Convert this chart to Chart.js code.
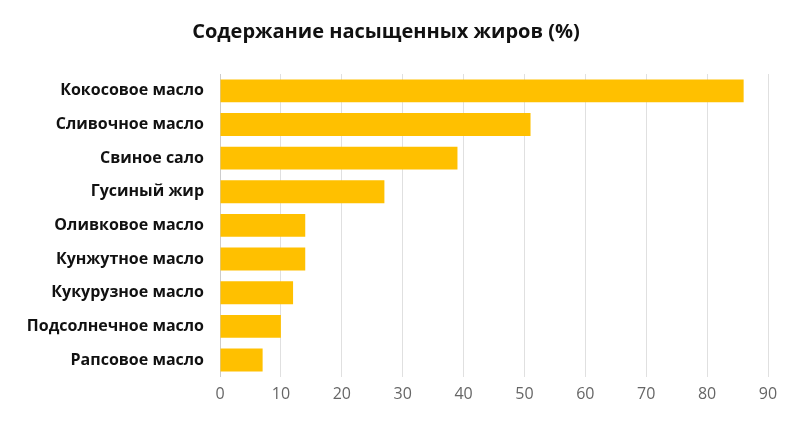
<!DOCTYPE html>
<html>
<head>
<meta charset="utf-8">
<script src="https://cdn.jsdelivr.net/npm/chart.js@4/dist/chart.umd.min.js"></script>
<style>
  body { margin: 0; background: #fff; }
  #wrap { width: 800px; height: 426px; }
</style>
</head>
<body>
<div id="wrap"><canvas id="myChart"></canvas></div>
<script>
const categories = ['Кокосовое масло', 'Сливочное масло', 'Свиное сало', 'Гусиный жир', 'Оливковое масло',
  'Кунжутное масло', 'Кукурузное масло', 'Подсолнечное масло', 'Рапсовое масло'];
const fatValues = [86, 51, 39, 27, 14, 14, 12, 10, 7];
const xTicks = [0, 10, 20, 30, 40, 50, 60, 70, 80, 90];

new Chart(document.getElementById('myChart'), {
  type: 'bar',
  data: {
    labels: categories,
    datasets: [{
      data: fatValues,
      backgroundColor: '#FFC000',
      categoryPercentage: 1,
      barPercentage: 0.68
    }]
  },
  options: {
    indexAxis: 'y',
    responsive: true,
    maintainAspectRatio: false,
    animation: false,
    layout: { padding: { left: 4, right: 32, top: 6, bottom: 14 } },
    plugins: {
      legend: { display: false },
      tooltip: { enabled: false },
      title: {
        display: true,
        text: 'Содержание насыщенных жиров (%)',
        color: '#111',
        font: { family: 'Open Sans', size: 20, weight: 'bold' },
        padding: { top: 14, bottom: 30 }
      }
    },
    scales: {
      x: {
        min: 0,
        max: 90,
        afterBuildTicks: axis => { axis.ticks = xTicks.map(v => ({ value: v })); },
        grid: { color: '#e0e0e0', drawTicks: false },
        border: { display: false },
        ticks: { color: '#666', padding: 8, font: { family: 'Open Sans', size: 16 } }
      },
      y: {
        afterFit: axis => { axis.width = 216; },
        grid: { display: false },
        border: { color: '#ccc' },
        ticks: { color: '#111', padding: 8, font: { family: 'Open Sans', size: 16, weight: 'bold' } }
      }
    }
  }
});
</script>
</body>
</html>
